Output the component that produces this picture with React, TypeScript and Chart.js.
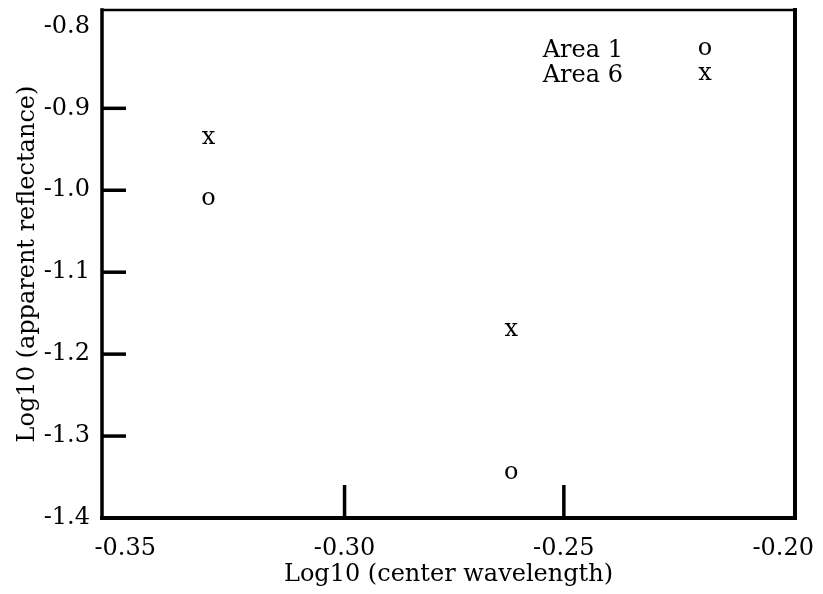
import React, { useEffect, useRef } from "react";
import { Chart, registerables } from "chart.js";

Chart.register(...registerables);

// ---- data ----
const seriesNames = ["Area 1", "Area 6"];
const seriesMarkers = ["o", "x"];
const area1X = [-0.331, -0.262];
const area1Y = [-1.01, -1.345];
const area6X = [-0.331, -0.262];
const area6Y = [-0.935, -1.17];

const xTickValues = [-0.35, -0.3, -0.25, -0.2];
const yTickValues = [-0.8, -0.9, -1.0, -1.1, -1.2, -1.3, -1.4];
const xTickMarks = [-0.3, -0.25];
const yTickMarks = [-0.9, -1.0, -1.1, -1.2, -1.3];
const xRange = [-0.3553, -0.1973];
const yRange = [-1.4, -0.78];

const xTitle = "Log10 (center wavelength)";
const yTitle = "Log10 (apparent reflectance)";

const FONT = "'DejaVu Serif', serif";
const FS = 24;

const framePlugin = {
  id: "framePlugin",
  afterDraw(chart: any) {
    const { ctx, chartArea } = chart;
    const { left, right, top, bottom } = chartArea;
    const xs = chart.scales.x;
    const ys = chart.scales.y;
    ctx.save();
    ctx.strokeStyle = "#000";
    ctx.lineCap = "square";
    const seg = (x1: number, y1: number, x2: number, y2: number, w: number) => {
      ctx.lineWidth = w;
      ctx.beginPath();
      ctx.moveTo(x1, y1);
      ctx.lineTo(x2, y2);
      ctx.stroke();
    };
    // frame
    seg(left, top, right, top, 2.5);
    seg(right, top, right, bottom, 4);
    seg(left, bottom, right, bottom, 4);
    seg(left, top, left, bottom, 3.5);
    // inward tick marks
    ctx.lineCap = "butt";
    yTickMarks.forEach((v) => {
      const y = ys.getPixelForValue(v);
      seg(left, y, left + 24, y, 3.5);
    });
    xTickMarks.forEach((v) => {
      const x = xs.getPixelForValue(v);
      seg(x, bottom, x, bottom - 33, 3.5);
    });

    // glyph markers
    ctx.fillStyle = "#000";
    ctx.font = `${FS}px ${FONT}`;
    const drawGlyph = (g: string, cx: number, cy: number) => {
      const m = ctx.measureText(g);
      const asc = m.actualBoundingBoxAscent;
      const desc = m.actualBoundingBoxDescent;
      ctx.textAlign = "center";
      ctx.textBaseline = "alphabetic";
      ctx.fillText(g, cx, cy + (asc - desc) / 2);
    };
    chart.data.datasets.forEach((ds: any, i: number) => {
      const meta = chart.getDatasetMeta(i);
      meta.data.forEach((pt: any) => {
        drawGlyph(seriesMarkers[i], pt.x, pt.y);
      });
    });

    // legend
    seriesNames.forEach((name, i) => {
      const rowY = top + 38 + i * 25;
      ctx.font = `${FS}px ${FONT}`;
      const m = ctx.measureText("A");
      const asc = m.actualBoundingBoxAscent;
      ctx.textAlign = "right";
      ctx.textBaseline = "alphabetic";
      ctx.fillText(name, right - 172, rowY + asc / 2);
      drawGlyph(seriesMarkers[i], right - 90, rowY);
    });
    ctx.restore();
  },
};

export default function App() {
  const ref = useRef<HTMLCanvasElement | null>(null);

  useEffect(() => {
    if (!ref.current) return;
    const chart = new Chart(ref.current, {
      type: "scatter",
      data: {
        datasets: [
          {
            label: seriesNames[0],
            data: area1X.map((x, i) => ({ x, y: area1Y[i] })),
            pointRadius: 0,
            pointHoverRadius: 0,
          },
          {
            label: seriesNames[1],
            data: area6X.map((x, i) => ({ x, y: area6Y[i] })),
            pointRadius: 0,
            pointHoverRadius: 0,
          },
        ],
      },
      options: {
        animation: false,
        responsive: false,
        events: [],
        layout: { padding: { top: 10, right: 28, left: 0, bottom: 0 } },
        plugins: {
          legend: { display: false },
          tooltip: { enabled: false },
        },
        scales: {
          x: {
            type: "linear",
            min: xRange[0],
            max: xRange[1],
            grid: { display: false, drawTicks: false },
            border: { display: false },
            afterBuildTicks: (s: any) => {
              s.ticks = xTickValues.map((v) => ({ value: v }));
            },
            afterFit: (s: any) => {
              s.height = 76;
              s.paddingLeft = 0;
              s.paddingRight = 0;
            },
            ticks: {
              color: "#000",
              padding: 16,
              font: { family: FONT, size: FS },
              callback: (v: any) => Number(v).toFixed(2),
              maxRotation: 0,
            },
            title: {
              display: true,
              text: xTitle,
              color: "#000",
              font: { family: FONT, size: FS },
              padding: { top: 0, bottom: 5 },
            },
          },
          y: {
            type: "linear",
            min: yRange[0],
            max: yRange[1],
            grid: { display: false, drawTicks: false },
            border: { display: false },
            afterBuildTicks: (s: any) => {
              s.ticks = yTickValues.map((v) => ({ value: v }));
            },
            afterFit: (s: any) => {
              s.width = 102;
              s.paddingTop = 0;
              s.paddingBottom = 0;
            },
            ticks: {
              color: "#000",
              padding: 12,
              font: { family: FONT, size: FS },
              callback: (v: any) => Number(v).toFixed(1),
            },
            title: {
              display: true,
              text: yTitle,
              color: "#000",
              font: { family: FONT, size: FS },
              padding: { top: 13, bottom: 0 },
            },
          },
        },
      },
      plugins: [framePlugin],
    });
    return () => chart.destroy();
  }, []);

  return (
    <div style={{ position: "absolute", left: 0, top: 0, width: 823, height: 594, background: "#fff" }}>
      <canvas ref={ref} width={823} height={594} style={{ display: "block", width: 823, height: 594 }} />
    </div>
  );
}
